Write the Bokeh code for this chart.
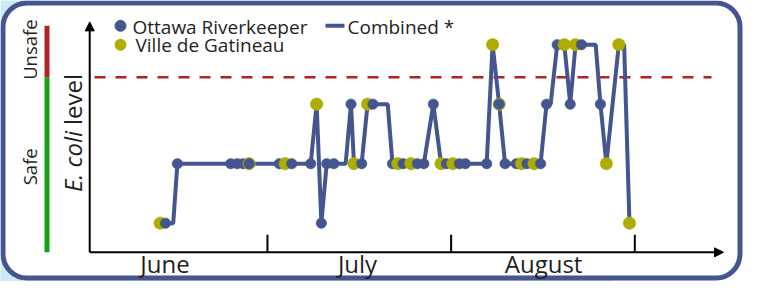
import pandas as pd
from bokeh.plotting import figure
from bokeh.models import Range1d, BoxAnnotation, Arrow, NormalHead, ColumnDataSource
from bokeh.core.properties import value
from bokeh.embed import file_html
from bokeh.resources import INLINE

# ---------------- data ----------------
# days since June 1 (0 = start of June 1), E. coli level category (0 = low ... 3 = very high)
riverkeeper_days = [12.8, 14.8, 23.8, 24.9, 25.9, 26.9, 32.0, 34.1, 37.3, 39.1, 40.0, 41.2,
                    44.1, 45.9, 47.8, 51.1, 52.9, 55.3, 56.4, 58.0, 60.2, 62.4, 63.4, 67.0,
                    69.1, 70.1, 72.0, 73.8, 76.1, 77.1, 78.9, 81.1, 83.0, 86.2]
riverkeeper_levels = [0, 1, 1, 1, 1, 1, 1, 1, 1, 0, 1, 1,
                      2, 1, 2, 1, 1, 1, 1, 2, 1, 1, 1, 1,
                      2, 1, 1, 1, 1, 2, 3, 2, 3, 2]
gatineau_days = [11.9, 26.9, 33.0, 38.3, 44.6, 46.9, 52.0, 54.2, 59.3, 61.3,
                 68.0, 69.1, 72.9, 75.0, 80.1, 82.0, 87.2, 89.3, 91.1]
gatineau_levels = [0, 1, 1, 2, 1, 2, 1, 1, 1, 1,
                   3, 2, 1, 1, 3, 3, 1, 3, 0]
combined_days = [12.8, 14.1, 14.8, 37.3, 38.3, 39.1, 40.0, 43.2, 44.1, 44.6, 45.9, 46.9,
                 50.3, 51.1, 56.4, 58.0, 59.3, 67.0, 68.0, 69.1, 70.1, 76.1, 77.1, 77.8,
                 78.9, 80.1, 81.1, 82.0, 85.4, 86.2, 87.2, 89.3, 90.2, 91.1]
combined_levels = [0, 0, 1, 1, 2, 0, 1, 1, 2, 1, 1, 2,
                   2, 1, 1, 2, 1, 1, 3, 2, 1, 1, 2, 2,
                   3, 3, 2, 3, 3, 2, 1, 3, 3, 0]
unsafe_threshold = 2.45
month_names = ["June", "July", "August"]
month_label_days = [12.7, 45.2, 76.6]
month_boundary_days = [30, 61, 92]
legend_labels = ["Ottawa Riverkeeper", "Ville de Gatineau", "Combined *"]

# ---------------- styles ----------------
BLUE = "#44558f"
OLIVE = "#adad00"
RED = "#b22222"
RED_BAR = "#b02424"
GREEN = "#16a016"
LIGHTBLUE = "#cde9f9"
TXT = "#231f20"
FONT = value("Open Sans")

W, H = 743, 281

# layout helpers: reference-picture pixel -> data coordinates
def dx(px):
    return (px - 97.2) / 5.925

def dy(py):
    return (236.0 - py) / 61.2

p = figure(width=W, height=H, output_backend="svg", toolbar_location=None,
           x_range=Range1d(dx(8), dx(751)), y_range=Range1d(dy(296), dy(7)),
           x_axis_type=None, y_axis_type=None, min_border=0,
           background_fill_color="white", border_fill_color="white", outline_line_color=None)
p.grid.visible = False

# light blue page background at left / bottom-left
bg = p.quad(left=[dx(0), dx(0)], right=[dx(45), dx(620)], top=[dy(0), dy(285)],
            bottom=[dy(300), dy(300)], fill_color=LIGHTBLUE, line_color=None)
bg.level = "image"

# rounded white card
card = BoxAnnotation(left=dx(10.5), right=dx(747.5), top=dy(9.5), bottom=dy(292.5),
                     fill_color="white", fill_alpha=1, line_color=BLUE, line_alpha=1,
                     line_width=5, border_radius=24, level="underlay")
p.add_layout(card)

# safe / unsafe bar
p.segment(x0=[dx(54.5)], x1=[dx(54.5)], y0=[dy(33)], y1=[unsafe_threshold],
          line_color=RED_BAR, line_width=5)
p.segment(x0=[dx(54.5)], x1=[dx(54.5)], y0=[unsafe_threshold], y1=[dy(266)],
          line_color=GREEN, line_width=5)
p.text(x=[dx(37)], y=[dy(57.5)], text=["Unsafe"], angle=1.5708, text_align="center",
       text_baseline="middle", text_font=FONT, text_font_size="18.5px", text_color=TXT)
p.text(x=[dx(37)], y=[dy(178)], text=["Safe"], angle=1.5708, text_align="center",
       text_baseline="middle", text_font=FONT, text_font_size="18.5px", text_color=TXT)

# y label
p.text(x=[dx(80)], y=[dy(204)], text=["E. coli"], angle=1.5708, text_align="left",
       text_baseline="middle", text_font=FONT, text_font_size="24px",
       text_font_style="italic", text_color=TXT)
p.text(x=[dx(80)], y=[dy(135)], text=["level"], angle=1.5708, text_align="left",
       text_baseline="middle", text_font=FONT, text_font_size="24px", text_color=TXT)

# axes with arrows
y_axis_level = dy(266)
p.add_layout(Arrow(end=NormalHead(size=9, fill_color="black", line_color="black", line_width=1),
                   x_start=0, y_start=y_axis_level, x_end=0, y_end=dy(29),
                   line_color="black", line_width=2))
p.add_layout(Arrow(end=NormalHead(size=9, fill_color="black", line_color="black", line_width=1),
                   x_start=0, y_start=y_axis_level, x_end=dx(731), y_end=y_axis_level,
                   line_color="black", line_width=2))
p.segment(x0=month_boundary_days, x1=month_boundary_days,
          y0=[y_axis_level] * 3, y1=[dy(248)] * 3, line_color="black", line_width=2)
p.text(x=month_label_days, y=[dy(278)] * 3, text=month_names, text_align="center",
       text_baseline="middle", text_font=FONT, text_font_size="24px", text_color=TXT)

# threshold
p.segment(x0=[dx(102)], x1=[dx(719)], y0=[unsafe_threshold], y1=[unsafe_threshold],
          line_color=RED, line_width=2.5, line_dash="11 10")

# combined line
p.line(combined_days, combined_levels, line_color=BLUE, line_width=4)

# points, drawn in date order
pts = pd.concat([
    pd.DataFrame({"day": gatineau_days, "level": gatineau_levels, "color": OLIVE,
                  "size": 12.5, "order": 0}),
    pd.DataFrame({"day": riverkeeper_days, "level": riverkeeper_levels, "color": BLUE,
                  "size": 10.5, "order": 1}),
]).sort_values(["day", "order"])
p.scatter("day", "level", source=ColumnDataSource(pts), size="size",
          fill_color="color", line_color="color", line_width=0.5)

# legend
p.scatter([dx(128)], [dy(33)], size=11, fill_color=BLUE, line_color=BLUE)
p.scatter([dx(128)], [dy(52.5)], size=11, fill_color=OLIVE, line_color=OLIVE)
p.segment(x0=[dx(333)], x1=[dx(352)], y0=[dy(33)], y1=[dy(33)], line_color=BLUE, line_width=4)
p.text(x=[dx(140), dx(143), dx(355)], y=[dy(34), dy(53), dy(34)], text=legend_labels,
       text_align="left", text_baseline="middle", text_font=FONT, text_font_size="19px",
       text_color=TXT)

open("out.html", "w").write(file_html(p, INLINE))
